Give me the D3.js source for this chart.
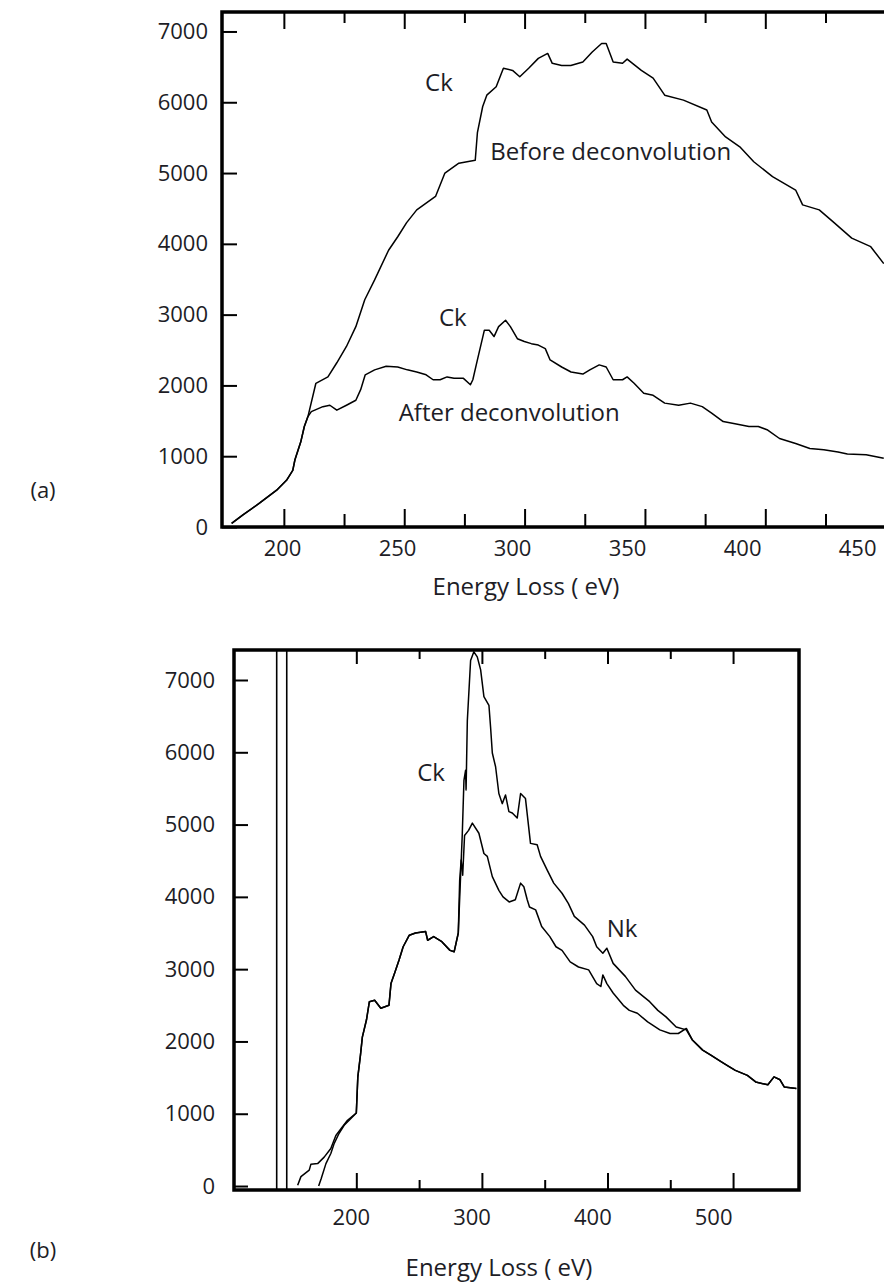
<!DOCTYPE html>
<html>
<head>
<meta charset="utf-8">
<script src="https://cdn.jsdelivr.net/npm/d3@7"></script>
<style>
  body { margin: 0; background: #fff; }
  svg { display: block; }
  text { font-family: "Open Sans", sans-serif; fill: #1d1d26; }
  .tick text { font-size: 22px; }
  .tick line { stroke: #000; stroke-width: 2; }
  .note { font-size: 24px; }
  .curve { fill: none; stroke: #000; stroke-width: 1.5; stroke-linejoin: round; }
  .marker { stroke: #000; stroke-width: 1.6; }
  .frame { fill: none; stroke: #000; stroke-width: 3.5; }
</style>
</head>
<body>
<div id="chart"></div>
<script>

// ---- data: [energy loss (eV), counts] ----

// (a) both spectra share the rising edge
const edgeA = [[178.3,50],[183,170],[190,340],[197,520],[201.1,660],[203.7,800],[204.6,950],[207,1200],[208.5,1420],[210,1560]];

const beforeTailA = [[213.3,2030],[218.3,2120],[222,2320],[226,2550],[229.9,2830],[233.6,3210],[237.7,3490],
  [243.5,3910],[247.3,4100],[251,4300],[255.2,4480],[263,4670],[266.9,5000],[272.7,5140],[279.5,5180],[280.4,5570],
  [282.6,5940],[284.3,6100],[288.2,6220],[291.2,6480],[295,6450],[298,6360],[301.7,6480],[305.7,6620],[309.6,6690],
  [311.5,6550],[315.4,6520],[319.2,6520],[324.2,6570],[328.1,6710],[332,6830],[333.9,6830],[336.8,6570],[340.7,6550],
  [342.6,6610],[348.5,6450],[353.4,6340],[358.2,6100],[366,6030],[375.7,5890],[377.7,5720],[383.5,5510],[389.4,5370],
  [395.2,5160],[403,4950],[412.6,4760],[415.5,4550],[422.4,4480],[428.2,4310],[435.9,4080],[443.8,3960],[449.2,3720]];

const afterTailA = [[211.4,1630],[216.2,1700],[219.1,1720],[222,1650],[226,1720],[229.9,1790],[231.9,1940],[233.8,2150],
  [237.7,2220],[242.5,2270],[247.3,2260],[251.3,2220],[255.2,2190],[259.1,2150],[262,2080],[264.9,2080],[267.8,2120],
  [270.7,2100],[274.6,2100],[277.5,2010],[278.5,2080],[280.4,2360],[283.3,2780],[285.3,2780],[287.3,2690],[289.2,2830],
  [292.1,2920],[294.1,2830],[297,2660],[299.9,2620],[302.8,2590],[305.7,2570],[308.6,2520],[310.6,2360],[315.4,2260],
  [319.3,2190],[324.2,2160],[327.1,2220],[331,2290],[333.9,2260],[336.8,2080],[340.7,2080],[342.6,2120],[345.5,2030],
  [349.5,1890],[353.4,1860],[358.2,1750],[364,1720],[368.9,1750],[373.8,1700],[377.7,1610],[382.5,1490],[387.4,1460],
  [393.2,1420],[397.1,1420],[401,1370],[405.9,1250],[412.6,1180],[418.5,1110],[424.3,1090],[430.2,1060],[434.1,1030],
  [441.9,1020],[449.2,970]];

// (b) the two traces start slightly apart, then run together up to the C-K edge
const startBeforeB = [[153.3,10],[155.9,130],[162.5,220],[163.8,300],[169.2,310],[174.4,400],[179.7,520],[183.7,700],[189,820],[193,910]];
const startAfterB = [[170,0],[172,100],[175.8,310],[179.7,450],[182.4,590],[186.3,730],[190.3,840],[194.3,910]];

const edgeB = [[200,1010],[201.2,1510],[203.3,1810],[204.8,2060],[208.1,2300],[210.4,2550],[214.6,2570],[219.5,2460],
  [226,2500],[227.6,2800],[230.8,2960],[234.1,3130],[237.3,3310],[242.2,3470],[247.1,3500],[255.2,3520],[256.8,3400],
  [261.6,3450],[268.1,3380],[274.6,3260],[277.9,3240],[281.2,3500]];

const peakBeforeB = [[284.4,4880],[285.7,5610],[287,5750],[287.4,5480],[288.4,6440],[291,7270],[293.6,7390],[296.3,7320],
  [299,7140],[301.6,6770],[305.6,6650],[306.9,6350],[308.3,5990],[310.9,5800],[313.5,5430],[316.2,5290],[318.8,5410],
  [321.5,5180],[324.2,5160],[328.1,5090],[330.8,5430],[334.7,5360],[338.7,4740],[344,4720],[346.7,4560],[352,4370],
  [357.2,4190],[363.8,4050],[368.8,3910],[373.6,3730],[381.7,3610],[388.2,3450],[391.4,3310],[396.3,3220],[399.5,3290],
  [404.5,3080],[414.2,2900],[422.3,2710],[433.6,2550],[440.1,2430],[446.6,2340],[454.7,2200],[462.8,2160]];

const peakAfterB = [[282.3,4230],[283.5,4510],[284.7,4300],[286.2,4850],[289.4,4920],[292.4,5020],[297.6,4880],[301.6,4600],
  [304.3,4560],[308.3,4280],[313.5,4090],[316.8,4000],[321.7,3930],[326.6,3960],[330.8,4190],[333.4,4140],[336.1,3960],
  [337.9,3860],[342.8,3820],[347.6,3590],[354.1,3450],[359,3310],[363.8,3260],[370.3,3100],[376.9,3030],[385,2990],
  [391.4,2800],[394.7,2760],[396.3,2920],[399.5,2800],[404.5,2670],[412.6,2500],[417.4,2430],[423.8,2390],[432,2270],
  [441.7,2160],[449.8,2110],[456.4,2110],[462.8,2180]];

const tailB = [[467.6,2020],[475.8,1880],[482.3,1810],[490.4,1720],[495.2,1670],[501.8,1600],[511.4,1530],[518,1440],
  [527.7,1400],[532.6,1510],[537.4,1470],[540.7,1370],[550.4,1350]];

const markersB = [136.6, 144.6];

const yTickValues = [0, 1000, 2000, 3000, 4000, 5000, 6000, 7000];
const xMajorA = [200, 250, 300, 350, 400, 450];
const xMinorA = [225, 275, 325, 375, 425];
const xMajorB = [200, 300, 400, 500];
const xMinorB = [250, 350, 450];

const notesA = [
  { text: "Ck", e: 264.4, c: 6271 },
  { text: "Before deconvolution", e: 335.8, c: 5297 },
  { text: "Ck", e: 270.2, c: 2952 },
  { text: "After deconvolution", e: 293.6, c: 1610 }
];
const notesB = [
  { text: "Ck", e: 259.5, c: 5713 },
  { text: "Nk", e: 411.6, c: 3555 }
];

const xTitle = "Energy Loss ( eV)";

// ---- layout ----

const width = 884, height = 1286;

const svg = d3.select("#chart").append("svg")
  .attr("width", width)
  .attr("height", height);

const panels = [
  {
    name: "a", tag: "(a)",
    left: 222, top: 12, right: 890, bottom: 527,
    xDomain: [174.3, 451.8], yDomain: [0, 7275],
    // tick labels in the original drift left of their ticks towards the right
    labelDomain: [173.9, 464.3],
    xMajor: xMajorA, xMinor: xMinorA,
    series: [edgeA.concat(beforeTailA), edgeA.concat(afterTailA)],
    notes: notesA, markers: [],
    majorLen: 18, minorLen: 13, topMajorLen: 17, topMinorLen: 11, yLen: 15,
    xPad: 13, yPad: 14,
    titleX: 526, titleY: 595, tagX: 43, tagY: 490
  },
  {
    name: "b", tag: "(b)",
    left: 234, top: 650, right: 799, bottom: 1190,
    xDomain: [102.6, 552.5], yDomain: [-55, 7415],
    labelDomain: [103.3, 571.1],
    xMajor: xMajorB, xMinor: xMinorB,
    series: [startBeforeB.concat(edgeB, peakBeforeB, tailB), startAfterB.concat(edgeB, peakAfterB, tailB)],
    notes: notesB, markers: markersB,
    majorLen: 17, minorLen: 10, topMajorLen: 14, topMinorLen: 9, yLen: 14,
    xPad: 19, yPad: 19,
    titleX: 499, titleY: 1276, tagX: 43, tagY: 1250
  }
];

panels.forEach(drawPanel);

function drawPanel(cfg) {
  let x = d3.scaleLinear().domain(cfg.xDomain).range([cfg.left, cfg.right]);
  let y = d3.scaleLinear().domain(cfg.yDomain).range([cfg.bottom, cfg.top]);
  let xLabels = x.copy().domain(cfg.labelDomain);

  let g = svg.append("g").attr("id", "panel-" + cfg.name);

  g.append("clipPath")
    .attr("id", "clip-" + cfg.name)
    .append("rect")
    .attr("x", cfg.left)
    .attr("y", cfg.top)
    .attr("width", cfg.right - cfg.left)
    .attr("height", cfg.bottom - cfg.top);

  let plot = g.append("g").attr("clip-path", "url(#clip-" + cfg.name + ")");

  plot.selectAll(".marker")
    .data(cfg.markers)
    .join("line")
    .attr("class", "marker")
    .attr("x1", d => x(d)).attr("x2", d => x(d))
    .attr("y1", cfg.top).attr("y2", cfg.bottom);

  let line = d3.line()
    .x(d => x(d[0]))
    .y(d => y(d[1]));

  plot.selectAll(".curve")
    .data(cfg.series)
    .join("path")
    .attr("class", "curve")
    .attr("d", line);

  // inward ticks on the bottom and top edges
  g.append("g")
    .attr("transform", "translate(0," + cfg.bottom + ")")
    .call(d3.axisBottom(x).tickValues(cfg.xMajor).tickSize(-cfg.majorLen).tickFormat(""));
  g.append("g")
    .attr("transform", "translate(0," + cfg.bottom + ")")
    .call(d3.axisBottom(x).tickValues(cfg.xMinor).tickSize(-cfg.minorLen).tickFormat(""));
  g.append("g")
    .attr("transform", "translate(0," + cfg.top + ")")
    .call(d3.axisTop(x).tickValues(cfg.xMajor).tickSize(-cfg.topMajorLen).tickFormat(""));
  g.append("g")
    .attr("transform", "translate(0," + cfg.top + ")")
    .call(d3.axisTop(x).tickValues(cfg.xMinor).tickSize(-cfg.topMinorLen).tickFormat(""));

  g.append("g")
    .attr("transform", "translate(0," + cfg.bottom + ")")
    .call(d3.axisBottom(xLabels).tickValues(cfg.xMajor).tickSize(0).tickPadding(cfg.xPad).tickFormat(d3.format("d")));

  g.append("g")
    .attr("transform", "translate(" + cfg.left + ",0)")
    .call(d3.axisLeft(y).tickValues(yTickValues).tickSize(-cfg.yLen).tickPadding(cfg.yPad).tickFormat(d3.format("d")));

  g.selectAll(".domain").remove();

  g.append("rect")
    .attr("class", "frame")
    .attr("x", cfg.left)
    .attr("y", cfg.top)
    .attr("width", cfg.right - cfg.left)
    .attr("height", cfg.bottom - cfg.top);

  g.selectAll(".note")
    .data(cfg.notes)
    .join("text")
    .attr("class", "note")
    .attr("x", d => x(d.e))
    .attr("y", d => y(d.c))
    .attr("dy", "0.35em")
    .attr("text-anchor", "middle")
    .text(d => d.text);

  g.append("text")
    .attr("class", "note")
    .attr("x", cfg.titleX)
    .attr("y", cfg.titleY)
    .attr("text-anchor", "middle")
    .text(xTitle);

  g.append("text")
    .attr("x", cfg.tagX)
    .attr("y", cfg.tagY)
    .attr("dy", "0.35em")
    .attr("text-anchor", "middle")
    .style("font-size", "22px")
    .text(cfg.tag);
}
</script>
</body>
</html>
